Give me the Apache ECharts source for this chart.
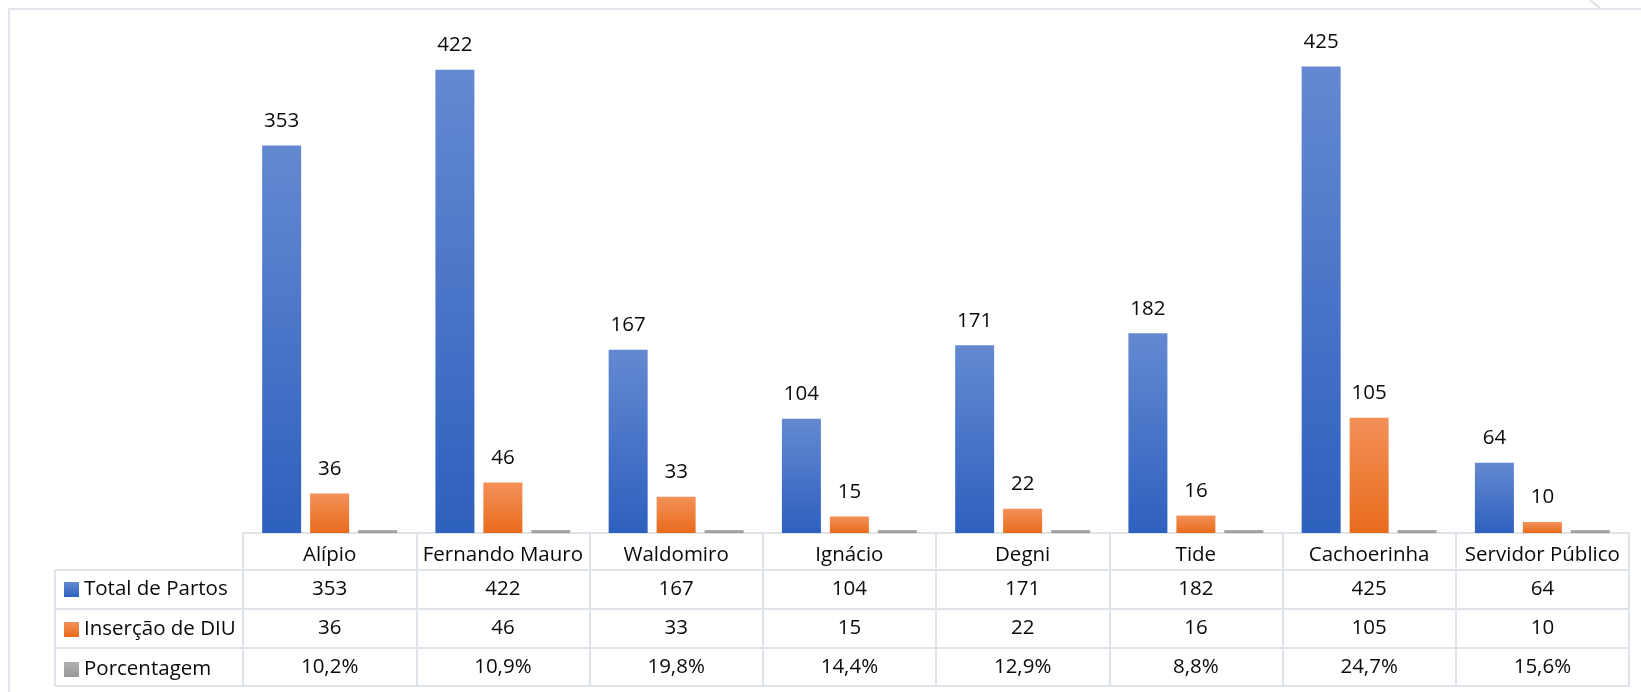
<!DOCTYPE html>
<html>
<head>
<meta charset="utf-8">
<script src="https://cdn.jsdelivr.net/npm/echarts@6/dist/echarts.min.js"></script>
<style>
  html, body { margin: 0; padding: 0; background: #fff; }
  #chart { width: 1641px; height: 692px; }
</style>
</head>
<body>
<div id="chart"></div>
<script>
// Partos e inserções de DIU por unidade
const unidades = ['Alípio', 'Fernando Mauro', 'Waldomiro', 'Ignácio', 'Degni', 'Tide', 'Cachoerinha', 'Servidor Público'];
const totalPartos = [353, 422, 167, 104, 171, 182, 425, 64];
const insercaoDIU = [36, 46, 33, 15, 22, 16, 105, 10];
const porcentagem = [0.102, 0.109, 0.198, 0.144, 0.129, 0.088, 0.247, 0.156];
const nomesSeries = ['Total de Partos', 'Inserção de DIU', 'Porcentagem'];

const FONT = '"Open Sans", "Noto Sans", sans-serif';
const TXT = '#0a0a0a';
const LINE = '#dfe3ea';
const FS = 20.5;

const fmtPct = v => v.toFixed(1).replace('.', ',') + '%';
const pctText = porcentagem.map(v => fmtPct(v * 100));

function grad(top, bottom) {
  return new echarts.graphic.LinearGradient(0, 0, 0, 1, [
    { offset: 0, color: top },
    { offset: 1, color: bottom }
  ]);
}

const rowLabel = {
  show: true, interval: 0, margin: 9,
  fontFamily: FONT, fontSize: FS, lineHeight: 20, color: TXT
};

// data table rows drawn as extra category axes under the plot
function tableRow(offset, texts) {
  return {
    type: 'category', gridIndex: 0, position: 'bottom', offset: offset,
    data: unidades,
    axisLine: { show: true, lineStyle: { color: LINE, width: 2 } },
    axisTick: { show: false },
    axisLabel: texts ? Object.assign({}, rowLabel, { formatter: (v, i) => String(texts[i]) }) : { show: false },
    splitLine: { show: false }
  };
}

const chart = echarts.init(document.getElementById('chart'), null, { renderer: 'canvas' });

const barLabel = {
  show: true, position: 'top', distance: 14,
  fontFamily: FONT, fontSize: FS, color: TXT
};

chart.setOption({
  animation: false,
  backgroundColor: '#ffffff',
  grid: { left: 243, right: 12, top: 39, bottom: 159 },
  legend: {
    orient: 'vertical', left: 64, top: 579, padding: 0,
    itemWidth: 15, itemHeight: 15, itemGap: 19,
    icon: 'rect', selectedMode: false,
    textStyle: { fontFamily: FONT, fontSize: FS, lineHeight: 20, color: TXT },
    data: nomesSeries
  },
  xAxis: [
    {
      type: 'category', gridIndex: 0, position: 'bottom',
      data: unidades,
      axisLine: { show: true, lineStyle: { color: LINE, width: 2 } },
      axisTick: { show: true, alignWithLabel: false, interval: 0, length: 153, lineStyle: { color: LINE, width: 2 } },
      axisLabel: Object.assign({}, rowLabel, { margin: 12 }),
      splitLine: { show: false }
    },
    tableRow(37, totalPartos),
    tableRow(76, insercaoDIU),
    tableRow(115, pctText),
    tableRow(153, null)
  ],
  yAxis: {
    type: 'value', min: 0, max: 450, show: false,
    splitLine: { show: false }
  },
  series: [
    {
      name: nomesSeries[0], type: 'bar', xAxisIndex: 0,
      data: totalPartos, barWidth: 39, barGap: '23%',
      itemStyle: { color: grad('#6489d1', '#2e60be') },
      label: barLabel
    },
    {
      name: nomesSeries[1], type: 'bar', xAxisIndex: 0,
      data: insercaoDIU, barWidth: 39, barGap: '23%',
      itemStyle: { color: grad('#f39159', '#e96b1c') },
      label: barLabel
    },
    {
      name: nomesSeries[2], type: 'bar', xAxisIndex: 0,
      data: porcentagem, barWidth: 39, barGap: '23%', barMinHeight: 3,
      itemStyle: { color: grad('#b2b2b2', '#979797') },
      label: { show: false }
    }
  ],
  graphic: [
    // outer frame
    { type: 'rect', shape: { x: 9, y: 9, width: 1700, height: 800 }, style: { fill: 'none', stroke: '#e2e6ec', lineWidth: 2 }, silent: true },
    { type: 'line', shape: { x1: 1590, y1: 0, x2: 1600, y2: 8 }, style: { stroke: '#dcdfe4', lineWidth: 2 }, silent: true },
    // legend column of the data table
    { type: 'polyline', shape: { points: [[243, 570], [55, 570], [55, 686], [243, 686]] }, style: { fill: 'none', stroke: LINE, lineWidth: 2 }, silent: true },
    { type: 'line', shape: { x1: 55, y1: 609, x2: 243, y2: 609 }, style: { stroke: LINE, lineWidth: 2 }, silent: true },
    { type: 'line', shape: { x1: 55, y1: 648, x2: 243, y2: 648 }, style: { stroke: LINE, lineWidth: 2 }, silent: true }
  ]
});
</script>
</body>
</html>
